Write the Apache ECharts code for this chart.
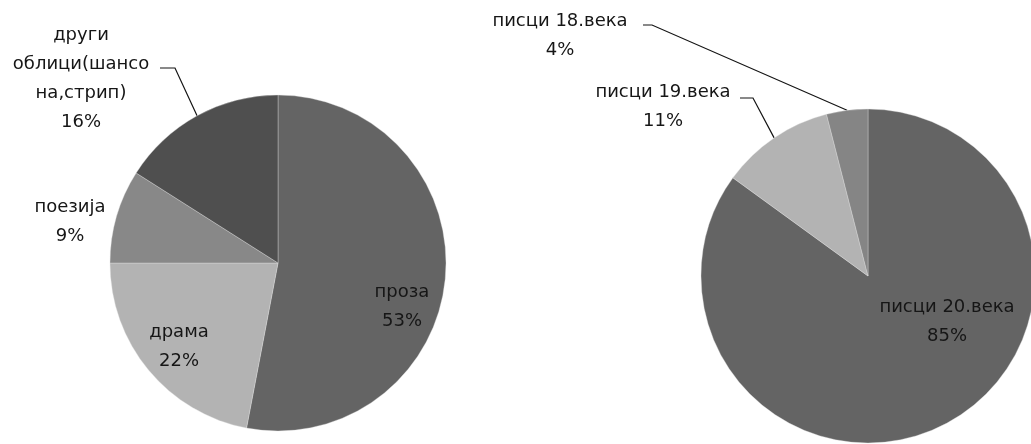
<!DOCTYPE html>
<html>
<head>
<meta charset="utf-8">
<script src="https://cdn.jsdelivr.net/npm/echarts@6/dist/echarts.min.js"></script>
<style>
  html, body { margin: 0; padding: 0; background: #ffffff; }
  #chart { width: 1031px; height: 444px; }
</style>
</head>
<body>
<div id="chart"></div>
<script>
// Literary forms (left pie)
const formCategories = ['проза', 'драма', 'поезија', 'други\nоблици(шансо\nна,стрип)'];
const formValues = [53, 22, 9, 16];
const formColors = ['#646464', '#b3b3b3', '#888888', '#4f4f4f'];

// Writers by century (right pie)
const centuryCategories = ['писци 20.века', 'писци 19.века', 'писци 18.века'];
const centuryValues = [85, 11, 4];
const centuryColors = ['#646464', '#b3b3b3', '#858585'];

// Label placement: text-block centre, plus the elbow and tail of the leader line
const formLabelLayout = [
  { pos: [402, 307] },
  { pos: [179, 347] },
  { pos: [70, 222] },
  { pos: [81, 79], elbow: [175, 68], tail: [160, 68] }
];
const centuryLabelLayout = [
  { pos: [947, 322] },
  { pos: [663, 107], elbow: [753, 98], tail: [740, 98] },
  { pos: [560, 36], elbow: [652, 25], tail: [643, 25] }
];

const FONT = '"DejaVu Sans", "Noto Sans", sans-serif';

function buildData(names, values, colors, layout) {
  return names.map((name, i) => ({
    name: name,
    value: values[i],
    itemStyle: { color: colors[i] },
    labelLine: { show: !!layout[i].elbow }
  }));
}

function makeLayout(layout) {
  return function (params) {
    const cfg = layout[params.dataIndex];
    const out = { x: cfg.pos[0], y: cfg.pos[1], align: 'center', verticalAlign: 'middle' };
    if (cfg.elbow && params.labelLinePoints) {
      out.labelLinePoints = [params.labelLinePoints[0], cfg.elbow, cfg.tail];
    }
    return out;
  };
}

function pieSeries(center, radius, names, values, colors, layout) {
  return {
    type: 'pie',
    center: center,
    radius: radius,
    startAngle: 90,
    clockwise: true,
    avoidLabelOverlap: false,
    silent: true,
    animation: false,
    data: buildData(names, values, colors, layout),
    itemStyle: { borderColor: 'rgba(225,225,225,0.6)', borderWidth: 0.6 },
    label: {
      show: true,
      position: 'outside',
      formatter: '{b}\n{d}%',
      color: '#161616',
      fontFamily: FONT,
      fontSize: 18,
      lineHeight: 29,
      align: 'center'
    },
    labelLine: {
      length: 40,
      length2: 12,
      lineStyle: { color: '#141414', width: 1.2 }
    },
    labelLayout: makeLayout(layout)
  };
}

const chart = echarts.init(document.getElementById('chart'), null, { renderer: 'canvas' });
chart.setOption({
  backgroundColor: '#ffffff',
  animation: false,
  series: [
    pieSeries([278, 263], 168, formCategories, formValues, formColors, formLabelLayout),
    pieSeries([868, 276], 167, centuryCategories, centuryValues, centuryColors, centuryLabelLayout)
  ]
});
</script>
</body>
</html>
